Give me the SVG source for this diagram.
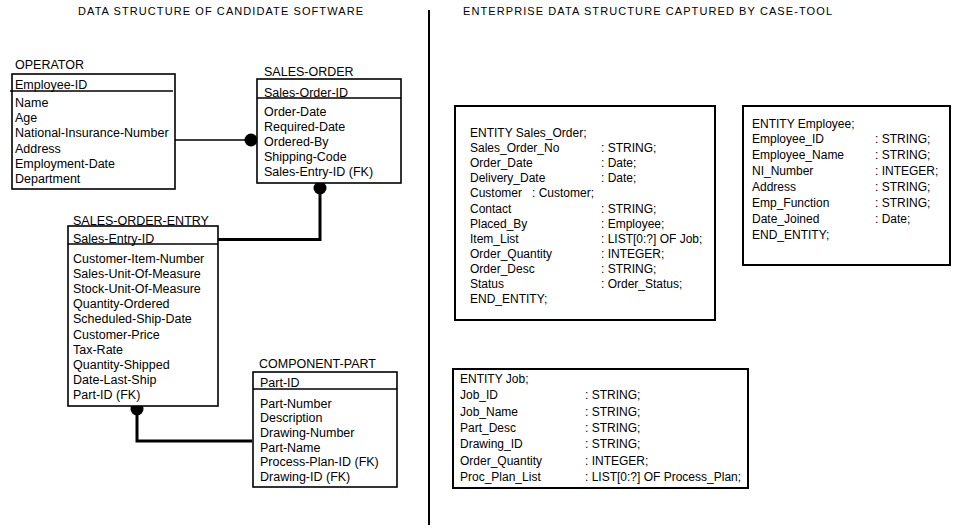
<svg xmlns="http://www.w3.org/2000/svg" width="956" height="529" viewBox="0 0 956 529">
<style>
text{font-family:"Liberation Sans",Arial,sans-serif;fill:#000}
.t{font-size:11px}
.e{font-size:12.5px}
.c{font-size:12px}
.box{fill:#fff;stroke:#000;stroke-width:1.6}
.rbox{fill:#fff;stroke:#000;stroke-width:2}
.hl{stroke:#000;stroke-width:1.6;fill:none}
.thin{stroke:#000;stroke-width:1.6;fill:none}
.thick{stroke:#000;stroke-width:3;fill:none}
.dot{fill:#000}
</style>
<rect width="956" height="529" fill="#fff"/>
<g id="titles">
<text class="t" x="78" y="15" textLength="285" lengthAdjust="spacing">DATA STRUCTURE OF CANDIDATE SOFTWARE</text>
<text class="t" x="463" y="15" textLength="369" lengthAdjust="spacing">ENTERPRISE DATA STRUCTURE CAPTURED BY CASE-TOOL</text>
<line x1="429" y1="10" x2="429" y2="525" stroke="#000" stroke-width="2"/>
</g>
<g id="connectors">
<line class="thin" x1="175" y1="140" x2="251" y2="140"/>
<circle class="dot" cx="251" cy="140" r="6.5"/>
<polyline class="thick" points="320,188 320,239.5 218,239.5"/>
<circle class="dot" cx="320" cy="188" r="6.5"/>
<polyline class="thick" points="137,409 137,441 252,441"/>
<circle class="dot" cx="137" cy="409" r="6.5"/>
</g>
<g id="operator">
<text class="e" x="15" y="69">OPERATOR</text>
<rect class="box" x="12" y="74" width="163" height="115"/>
<line class="hl" x1="10" y1="91" x2="173" y2="91"/>
<text class="e" x="15" y="89">Employee-ID</text>
<text class="e" x="15" y="107">Name</text>
<text class="e" x="15" y="122.2">Age</text>
<text class="e" x="15" y="137.4">National-Insurance-Number</text>
<text class="e" x="15" y="152.6">Address</text>
<text class="e" x="15" y="167.8">Employment-Date</text>
<text class="e" x="15" y="183">Department</text>
</g>
<g id="sales-order">
<text class="e" x="264" y="76">SALES-ORDER</text>
<rect class="box" x="257" y="79" width="144" height="104"/>
<line class="hl" x1="257" y1="98" x2="401" y2="98"/>
<text class="e" x="264" y="96.5">Sales-Order-ID</text>
<text class="e" x="264" y="115.5">Order-Date</text>
<text class="e" x="264" y="130.6">Required-Date</text>
<text class="e" x="264" y="145.7">Ordered-By</text>
<text class="e" x="264" y="160.8">Shipping-Code</text>
<text class="e" x="264" y="176">Sales-Entry-ID (FK)</text>
</g>
<g id="sales-order-entry">
<text class="e" x="73" y="225">SALES-ORDER-ENTRY</text>
<rect class="box" x="68" y="226" width="150" height="180"/>
<line class="hl" x1="68" y1="244" x2="218" y2="244"/>
<text class="e" x="73" y="243">Sales-Entry-ID</text>
<text class="e" x="73" y="262.5">Customer-Item-Number</text>
<text class="e" x="73" y="277.7">Sales-Unit-Of-Measure</text>
<text class="e" x="73" y="292.9">Stock-Unit-Of-Measure</text>
<text class="e" x="73" y="308.1">Quantity-Ordered</text>
<text class="e" x="73" y="323.3">Scheduled-Ship-Date</text>
<text class="e" x="73" y="338.5">Customer-Price</text>
<text class="e" x="73" y="353.7">Tax-Rate</text>
<text class="e" x="73" y="368.9">Quantity-Shipped</text>
<text class="e" x="73" y="384.1">Date-Last-Ship</text>
<text class="e" x="73" y="399.3">Part-ID (FK)</text>
</g>
<g id="component-part">
<text class="e" x="259" y="368">COMPONENT-PART</text>
<rect class="box" x="253" y="372" width="144" height="115"/>
<line class="hl" x1="253" y1="389" x2="397" y2="389"/>
<text class="e" x="260" y="386.5">Part-ID</text>
<text class="e" x="260" y="407.5">Part-Number</text>
<text class="e" x="260" y="422.2">Description</text>
<text class="e" x="260" y="436.9">Drawing-Number</text>
<text class="e" x="260" y="451.6">Part-Name</text>
<text class="e" x="260" y="466.3">Process-Plan-ID (FK)</text>
<text class="e" x="260" y="481">Drawing-ID (FK)</text>
</g>
<g id="entity-sales-order">
<rect class="rbox" x="455" y="106" width="260" height="214"/>
<text class="c" x="470" y="137">ENTITY Sales_Order;</text>
<text class="c" x="470" y="152.1">Sales_Order_No</text><text class="c" x="601" y="152.1">: STRING;</text>
<text class="c" x="470" y="167.2">Order_Date</text><text class="c" x="601" y="167.2">: Date;</text>
<text class="c" x="470" y="182.3">Delivery_Date</text><text class="c" x="601" y="182.3">: Date;</text>
<text class="c" x="470" y="197.4">Customer</text><text class="c" x="532" y="197.4">: Customer;</text>
<text class="c" x="470" y="212.5">Contact</text><text class="c" x="601" y="212.5">: STRING;</text>
<text class="c" x="470" y="227.6">Placed_By</text><text class="c" x="601" y="227.6">: Employee;</text>
<text class="c" x="470" y="242.7">Item_List</text><text class="c" x="601" y="242.7">: LIST[0:?] OF Job;</text>
<text class="c" x="470" y="257.8">Order_Quantity</text><text class="c" x="601" y="257.8">: INTEGER;</text>
<text class="c" x="470" y="272.9">Order_Desc</text><text class="c" x="601" y="272.9">: STRING;</text>
<text class="c" x="470" y="288">Status</text><text class="c" x="601" y="288">: Order_Status;</text>
<text class="c" x="470" y="303.1">END_ENTITY;</text>
</g>
<g id="entity-employee">
<rect class="rbox" x="743" y="106" width="207" height="159"/>
<text class="c" x="752" y="127.5">ENTITY Employee;</text>
<text class="c" x="752" y="143.4">Employee_ID</text><text class="c" x="875" y="143.4">: STRING;</text>
<text class="c" x="752" y="159.3">Employee_Name</text><text class="c" x="875" y="159.3">: STRING;</text>
<text class="c" x="752" y="175.2">NI_Number</text><text class="c" x="875" y="175.2">: INTEGER;</text>
<text class="c" x="752" y="191.1">Address</text><text class="c" x="875" y="191.1">: STRING;</text>
<text class="c" x="752" y="207">Emp_Function</text><text class="c" x="875" y="207">: STRING;</text>
<text class="c" x="752" y="222.9">Date_Joined</text><text class="c" x="875" y="222.9">: Date;</text>
<text class="c" x="752" y="238.8">END_ENTITY;</text>
</g>
<g id="entity-job">
<rect class="rbox" x="453" y="369" width="295" height="119"/>
<text class="c" x="460" y="383">ENTITY Job;</text>
<text class="c" x="460" y="399.3">Job_ID</text><text class="c" x="585" y="399.3">: STRING;</text>
<text class="c" x="460" y="415.6">Job_Name</text><text class="c" x="585" y="415.6">: STRING;</text>
<text class="c" x="460" y="431.9">Part_Desc</text><text class="c" x="585" y="431.9">: STRING;</text>
<text class="c" x="460" y="448.2">Drawing_ID</text><text class="c" x="585" y="448.2">: STRING;</text>
<text class="c" x="460" y="464.5">Order_Quantity</text><text class="c" x="585" y="464.5">: INTEGER;</text>
<text class="c" x="460" y="480.8">Proc_Plan_List</text><text class="c" x="585" y="480.8">: LIST[0:?] OF Process_Plan;</text>
</g>
</svg>
